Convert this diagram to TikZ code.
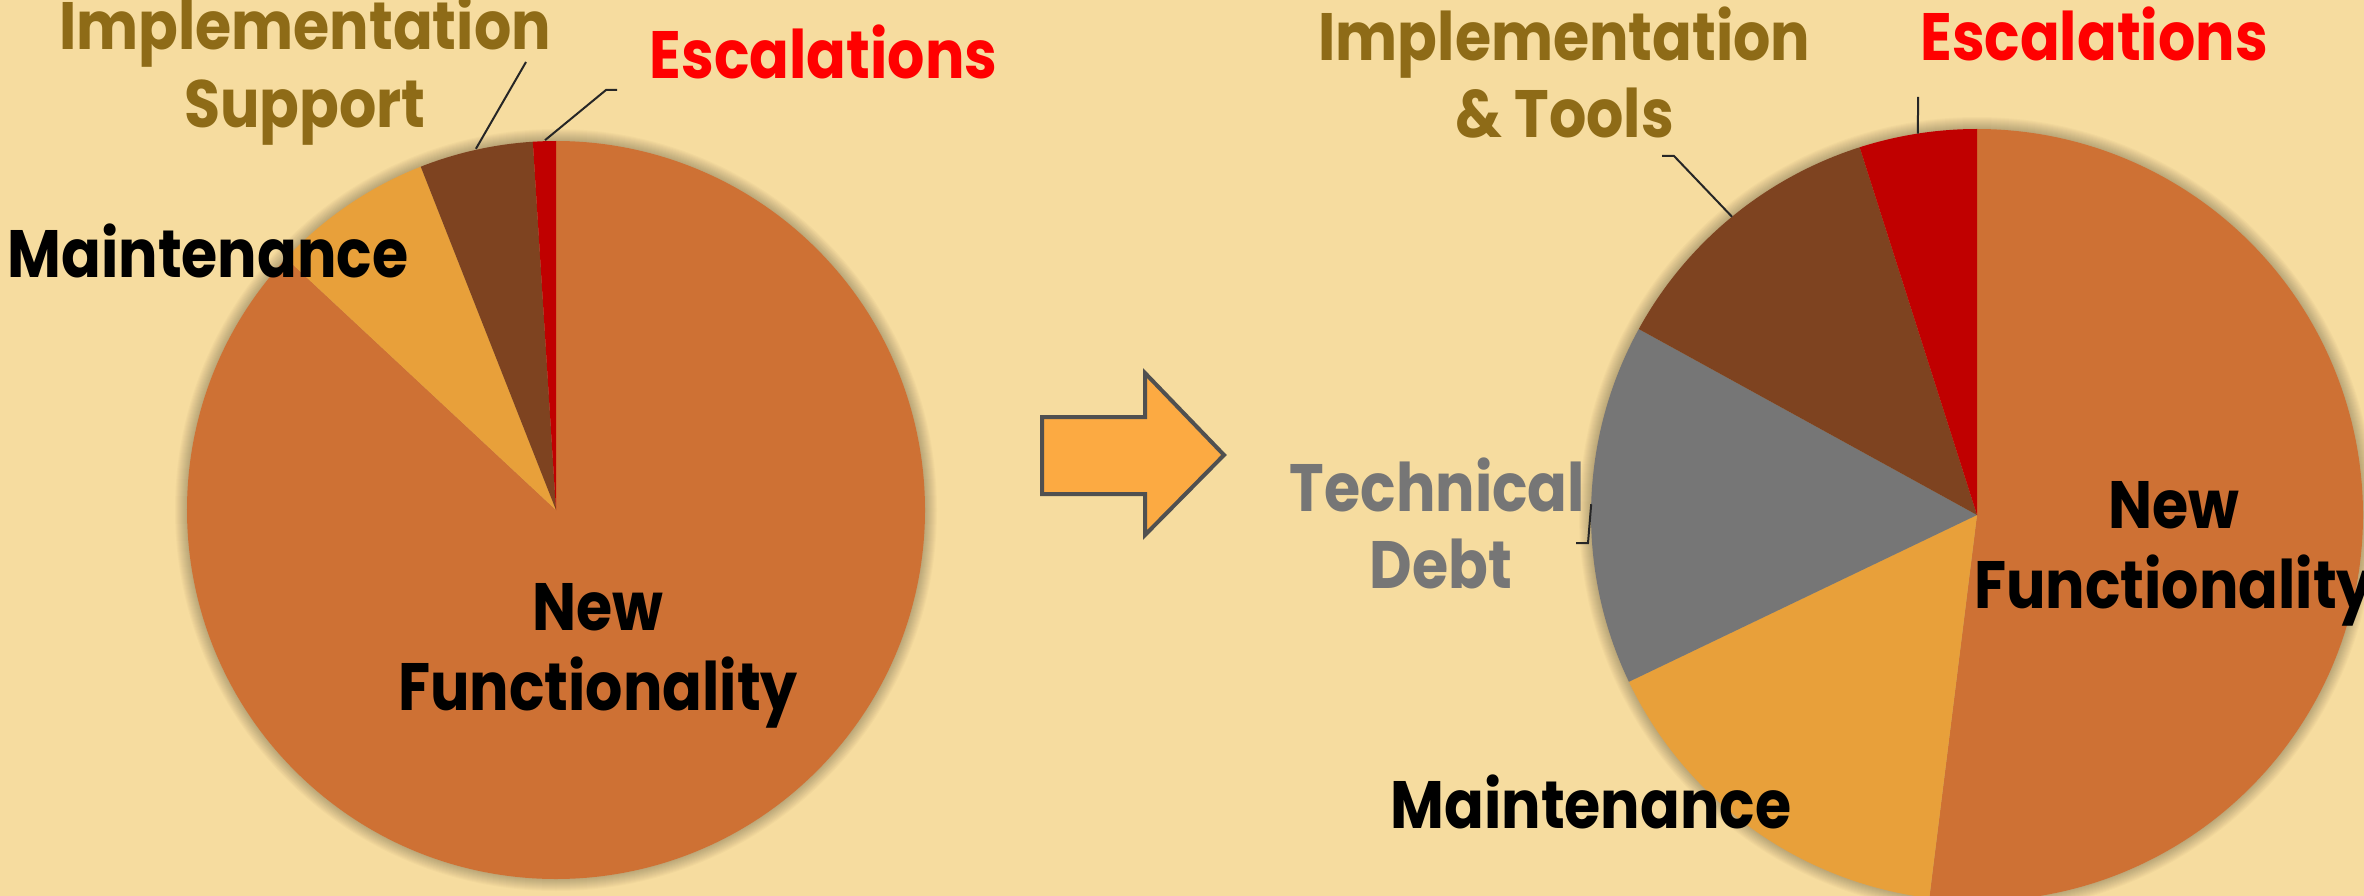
\documentclass[tikz,border=0pt]{standalone}
\usepackage{fontspec}
\setmainfont{Poppins}[FakeStretch=0.875]
\usetikzlibrary{calc}
\definecolor{bg}{HTML}{F6DC9F}
\definecolor{newf}{HTML}{CE7134}
\definecolor{maint}{HTML}{E8A03A}
\definecolor{impl}{HTML}{7E4320}
\definecolor{esc}{HTML}{C00000}
\definecolor{debt}{HTML}{767676}
\definecolor{goldtxt}{HTML}{8E6B17}
\definecolor{redtxt}{HTML}{FF0000}
\definecolor{greytxt}{HTML}{767676}
\definecolor{arrowfill}{HTML}{FCAA42}
\definecolor{arrowline}{HTML}{505050}
\definecolor{leadc}{HTML}{262626}
\begin{document}
\begin{tikzpicture}[x=1pt,y=-1pt,
  lbl/.style={font=\fontsize{67}{80}\selectfont\bfseries, inner sep=0pt, anchor=base},
  leader/.style={draw=leadc, line width=2pt}]
\fill[bg] (0,0) rectangle (2364,896);
\useasboundingbox (0,0) rectangle (2364,896);

% ---------- left pie ----------
\begin{scope}[shift={(556,510)}, yscale=-1]
  \foreach \i in {1,...,12} \fill[black, opacity=0.018] (0,0) circle (369+\i);
  \fill[newf]  (0,0) -- (137:369) arc[start angle=137, end angle=450, radius=369] -- cycle;
  \fill[maint] (0,0) -- (111.5:369) arc[start angle=111.5, end angle=137, radius=369] -- cycle;
  \fill[impl]  (0,0) -- (93.6:369) arc[start angle=93.6, end angle=111.5, radius=369] -- cycle;
  \fill[esc]   (0,0) -- (90:369) arc[start angle=90, end angle=93.6, radius=369] -- cycle;
  \coordinate (LimplEnd) at (102.5:370);
  \coordinate (LescEnd) at (91.7:370);
\end{scope}

% ---------- right pie ----------
\begin{scope}[shift={(1977,515)}, yscale=-1]
  \foreach \i in {1,...,12} \fill[black, opacity=0.018] (0,0) circle (386+\i);
  \fill[newf]  (0,0) -- (262.9:386) arc[start angle=262.9, end angle=450, radius=386] -- cycle;
  \fill[maint] (0,0) -- (205.6:386) arc[start angle=205.6, end angle=262.9, radius=386] -- cycle;
  \fill[debt]  (0,0) -- (151.2:386) arc[start angle=151.2, end angle=205.6, radius=386] -- cycle;
  \fill[impl]  (0,0) -- (107.7:386) arc[start angle=107.7, end angle=151.2, radius=386] -- cycle;
  \fill[esc]   (0,0) -- (90:386) arc[start angle=90, end angle=107.7, radius=386] -- cycle;
  \coordinate (RimplEnd) at (129.4:386);
  \coordinate (RescEnd) at (98.8:386);
  \coordinate (RdebtEnd) at (178.4:386);
\end{scope}

% ---------- arrow ----------
\draw[fill=arrowfill, draw=arrowline, line width=4pt, line join=miter]
  (1042,417) -- (1145,417) -- (1145,373) -- (1224,455) -- (1145,535) -- (1145,494) -- (1042,494) -- cycle;

% ---------- left labels ----------
\node[lbl, text=goldtxt] (LimplA) at (305,50) {Implementation};
\node[lbl, text=goldtxt] (LimplB) at (305,128) {Support};
\node[lbl, text=redtxt] (Lesc) at (823.5,79) {Escalations};
\node[lbl, text=black] (Lmaint) at (208,277) {Maintenance};
\node[lbl, text=black] (LnfA) at (598,630) {New};
\node[lbl, text=black] (LnfB) at (598,710) {Functionality};

% ---------- right labels ----------
\node[lbl, text=goldtxt] (RimplA) at (1564.5,61) {Implementation};
\node[lbl, text=goldtxt] (RimplB) at (1564.5,138) {\&~Tools};
\node[lbl, text=redtxt] (Resc) at (2094,61) {Escalations};
\node[lbl, text=greytxt] (RdebtA) at (1437.5,511) {Technical};
\node[lbl, text=greytxt] (RdebtB) at (1441,588) {Debt};
\node[lbl, text=black] (Rmaint) at (1591,828) {Maintenance};
\node[lbl, text=black] (RnfA) at (2174,528) {New};
\node[lbl, text=black] (RnfB) at (2174,608) {Functionality};

% ---------- leader lines ----------
\coordinate (LimplStart) at (526,62);
\coordinate (LescStart) at (617,90);
\coordinate (RimplStart) at (1662,156);
\coordinate (RescStart) at (1918,97);
\coordinate (RdebtStart) at (1576,543);
\draw[leader] (LimplStart) -- (LimplEnd);
\draw[leader] (LescStart) -- ++(-11,0) -- (LescEnd);
\draw[leader] (RimplStart) -- ++(12,0) -- (RimplEnd);
\draw[leader] (RescStart) -- (RescEnd);
\draw[leader] (RdebtStart) -- ++(12,0) -- (RdebtEnd);
\end{tikzpicture}
\end{document}
